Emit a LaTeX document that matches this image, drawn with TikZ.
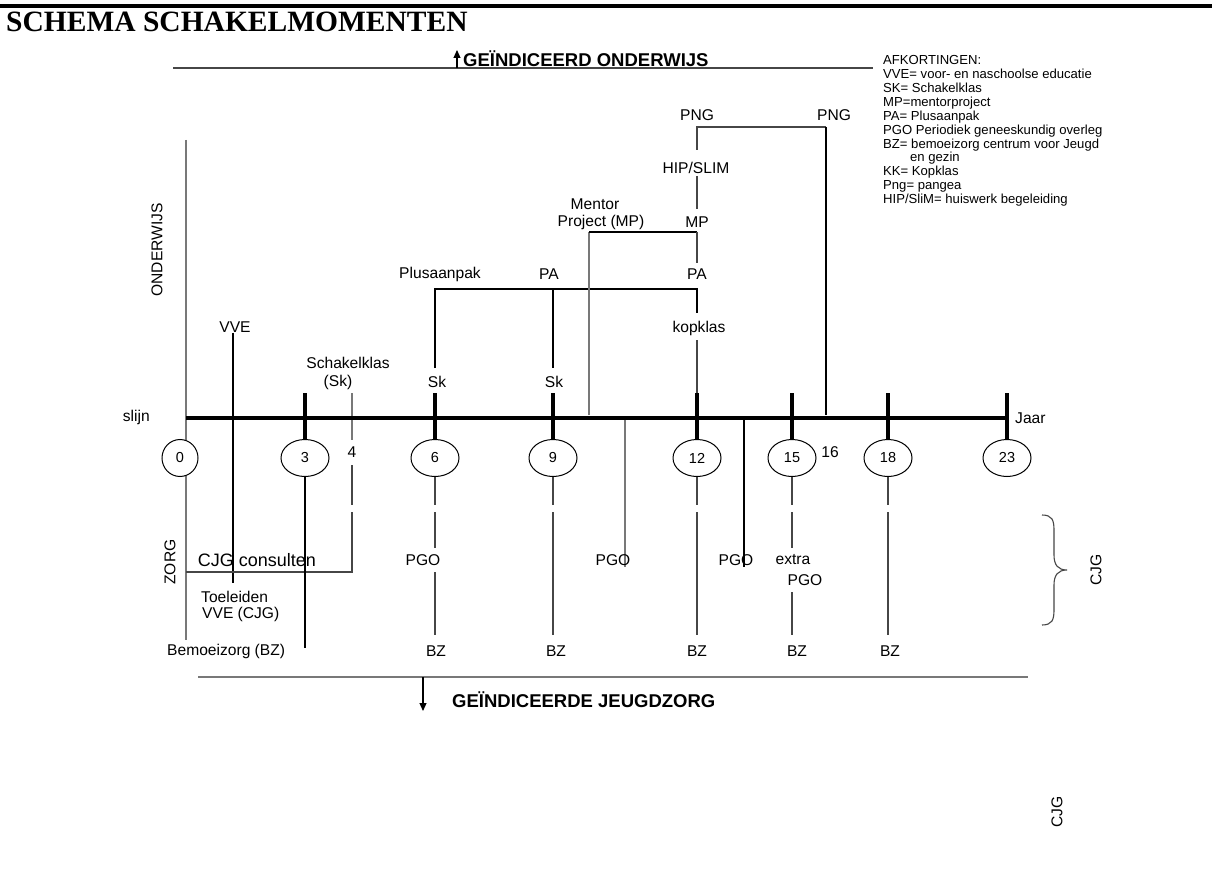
\documentclass[tikz,border=0pt]{standalone}
\usepackage{fontspec}
\setmainfont{Liberation Sans}
\newfontfamily\timesfont{Liberation Serif}
\usetikzlibrary{shapes.geometric,arrows.meta}
\definecolor{dgray}{RGB}{70,70,70}
\definecolor{lgray}{RGB}{120,120,120}
\begin{document}
\begin{tikzpicture}[x=1pt,y=-1pt,
  lbl/.style={font=\fontsize{15.6}{17}\selectfont, inner sep=0pt},
  bold/.style={font=\fontsize{18.5}{20}\selectfont\bfseries, inner sep=0pt},
  rot/.style={lbl, rotate=90},
  ell/.style={ellipse, draw=black, line width=1, fill=white, minimum width=48, minimum height=37, inner sep=0pt, font=\fontsize{14.5}{16}\selectfont},
  tick/.style={line width=4, draw=black},
  bl/.style={draw=black, line width=1.1},
  dl/.style={draw=dgray, line width=1.1},
  gl/.style={draw=lgray, line width=1.1},
  arr/.style={draw=black, line width=1.1, -{Triangle[length=8,width=7]}}
]
\useasboundingbox (0,0) rectangle (1212,893);
\fill[white] (0,0) rectangle (1212,893);

% top rule and title
\coordinate (ruleL) at (0,6);
\coordinate (ruleR) at (1212,6);
\draw[line width=3.5] (ruleL) -- (ruleR);
\node[anchor=base west, inner sep=0pt, font=\timesfont\bfseries\fontsize{29.5}{31}\selectfont] (title) at (6,32) {SCHEMA SCHAKELMOMENTEN};

% top band: geindiceerd onderwijs
\coordinate (topL) at (173,68);
\coordinate (topR) at (873,68);
\draw[dl] (topL) -- (topR);
\coordinate (upA) at (457,68);
\coordinate (upB) at (457,50);
\draw[arr] (upA) -- (upB);
\node[bold, anchor=base west] (gond) at (463,66.5) {GEÏNDICEERD ONDERWIJS};

% legend
\node[anchor=north west, inner sep=0pt, align=left, font=\fontsize{13.1}{13.95}\selectfont] (legend) at (883,55) {AFKORTINGEN:\\VVE= voor- en naschoolse educatie\\SK= Schakelklas\\MP=mentorproject\\PA= Plusaanpak\\PGO Periodiek geneeskundig overleg\\BZ= bemoeizorg centrum voor Jeugd\\\hspace*{27pt}en gezin\\KK= Kopklas\\Png= pangea\\HIP/SliM= huiswerk begeleiding};

% axis
\coordinate (axL) at (186,418);
\coordinate (axR) at (1007,418);

% vertical line at 0
\coordinate (v0a) at (186,140);
\coordinate (v0b) at (186,640);
\draw[gl] (v0a) -- (v0b);

% VVE
\node[lbl] (vve) at (235,327) {VVE};
\coordinate (vveb) at (233,583);
\draw[bl] (vve.south -| vveb) -- (vveb);

% schakelklas / col 4
\node[lbl] (schk) at (348,363) {Schakelklas};
\node[lbl] (schk2) at (338,382) {(Sk)};
\coordinate (c4a) at (352,393);
\coordinate (c4b) at (352,440);
\node[lbl] (n4) at (352,452) {4};
\coordinate (c4c) at (352,465);
\coordinate (c4d) at (352,505);
\coordinate (c4e) at (352,512);
\coordinate (c4f) at (352,572);
\coordinate (c4g) at (186,572);
\draw[gl] (c4a) -- (c4b);
\draw[dl] (c4c) -- (c4d);
\draw[dl] (c4e) -- (c4f) -- (c4g);

% upper brackets
\node[lbl] (plus) at (440,274) {Plusaanpak};
\node[lbl] (pa9) at (549,274) {PA};
\node[lbl] (pa12) at (697,274) {PA};
\node[lbl] (kop) at (699,328) {kopklas};
\node[lbl] (ment1) at (595,204) {Mentor};
\node[lbl] (ment2) at (601,222) {Project (MP)};
\node[lbl] (mp) at (697,222) {MP};
\node[lbl] (hip) at (696,168) {HIP/SLIM};
\node[lbl] (png1) at (697,115) {PNG};
\node[lbl] (png2) at (834,115) {PNG};
\node[lbl] (sk6) at (437,382) {Sk};
\node[lbl] (sk9) at (554,382) {Sk};

\coordinate (p6) at (435,289);
\coordinate (p6b) at (435,368);
\coordinate (p9) at (553,289);
\coordinate (p9b) at (553,368);
\coordinate (p12) at (697,289);
\coordinate (p12b) at (697,313);
\draw[bl] (p6b) -- (p6) -- (p12) -- (p12b);
\draw[bl] (p9) -- (p9b);

\coordinate (m1) at (589,415);
\coordinate (m2) at (589,232);
\coordinate (m3) at (697,232);
\coordinate (m4) at (697,263);
\draw[gl] (m1) -- (m2);
\draw[bl] (m2) -- (m3);
\draw[dl] (m3) -- (m4);

\coordinate (h1) at (697,176);
\coordinate (h2) at (697,209);
\draw[dl] (h1) -- (h2);

\coordinate (g1) at (697,150);
\coordinate (g2) at (697,127);
\coordinate (g3) at (826,127);
\coordinate (g4) at (826,415);
\draw[dl] (g1) -- (g2) -- (g3);
\draw[bl] (g3) -- (g4);

\coordinate (k1) at (697,340);
\coordinate (k2) at (697,418);
\draw[dl] (k1) -- (k2);

% PGO lines from axis
\coordinate (q1) at (625,418);
\coordinate (q2) at (625,567);
\coordinate (r1) at (744,418);
\coordinate (r2) at (744,567);
\draw[gl] (q1) -- (q2);
\draw[bl] (r1) -- (r2);

% axis and ticks
\draw[line width=4.7] (axL) -- (axR);
\foreach \nm/\xx in {t3/305, t6/435, t9/553, t12/697, t15/792, t18/888, t23/1007}{
  \coordinate (\nm a) at (\xx,393);
  \coordinate (\nm b) at (\xx,440);
  \draw[tick] (\nm a) -- (\nm b);
}
\node[lbl, anchor=east] (slijn) at (150,417) {slijn};
\node[lbl, anchor=west] (jaar) at (1015,418) {Jaar};
\node[lbl] (n16) at (830,452) {16};

% ellipses
\node[ell, minimum width=36] (e0) at (180,458) {0};
\node[ell] (e3) at (305,458) {3};
\node[ell] (e6) at (435,458) {6};
\node[ell] (e9) at (553,458) {9};
\node[ell] (e12) at (697,458) {12};
\node[ell] (e15) at (792,458) {15};
\node[ell] (e18) at (888,458) {18};
\node[ell] (e23) at (1007,458) {23};

% lower column lines
\coordinate (c3b) at (305,648);
\draw[bl] (e3.south) -- (c3b);
\foreach \e/\xx in {e6/435, e9/553, e12/697, e15/792, e18/888}{
  \coordinate (\e g1) at (\xx,505);
  \coordinate (\e g2) at (\xx,512);
  \draw[dl] (\e.south) -- (\e g1);
}
\foreach \e/\xx in {e9/553, e12/697, e18/888}{
  \coordinate (\e end) at (\xx,635);
  \draw[dl] (\e g2) -- (\e end);
}
\coordinate (e6m1) at (435,548);
\coordinate (e6m2) at (435,572);
\coordinate (e6end) at (435,635);
\draw[dl] (e6g2) -- (e6m1);
\draw[dl] (e6m2) -- (e6end);
\coordinate (e15m1) at (792,548);
\coordinate (e15m2) at (792,592);
\coordinate (e15end) at (792,635);
\draw[dl] (e15g2) -- (e15m1);
\draw[dl] (e15m2) -- (e15end);

% lower labels
\node[rot] (ond) at (157,250) {ONDERWIJS};
\node[rot] (zorg) at (170,562) {ZORG};
\node[inner sep=0pt, font=\fontsize{18}{20}\selectfont] (cjgc) at (257,560) {CJG consulten};
\node[lbl, anchor=west] (toel1) at (201,597) {Toeleiden};
\node[lbl, anchor=west] (toel2) at (202,614) {VVE (CJG)};
\node[lbl, anchor=west] (bemo) at (167,651) {Bemoeizorg (BZ)};
\node[lbl] (pgo6) at (423,560) {PGO};
\node[lbl] (pgo10) at (613,560) {PGO};
\node[lbl] (pgo14) at (736,560) {PGO};
\node[lbl] (extra) at (793,560) {extra};
\node[lbl] (pgo15) at (805,580) {PGO};
\node[lbl] (bz6) at (436,651) {BZ};
\node[lbl] (bz9) at (556,651) {BZ};
\node[lbl] (bz12) at (697,651) {BZ};
\node[lbl] (bz15) at (797,651) {BZ};
\node[lbl] (bz18) at (890,651) {BZ};

% brace and CJG
\coordinate (brT) at (1042,515);
\coordinate (brM) at (1067,570);
\coordinate (brB) at (1042,625);
\draw[dl] (brT) .. controls (1052,515) and (1054,520) .. (1054,530)
  -- (1054,555) .. controls (1054,565) and (1058,570) .. (brM)
  .. controls (1058,570) and (1054,575) .. (1054,585)
  -- (1054,610) .. controls (1054,620) and (1052,625) .. (brB);
\node[rot] (cjg1) at (1096,570) {CJG};
\node[rot] (cjg2) at (1057,812) {CJG};

% bottom band
\coordinate (botL) at (198,677);
\coordinate (botR) at (1028,677);
\draw[gl, line width=1.3] (botL) -- (botR);
\coordinate (dnA) at (423,677);
\coordinate (dnB) at (423,711);
\draw[arr] (dnA) -- (dnB);
\node[bold, anchor=west] (gjz) at (452,700) {GEÏNDICEERDE JEUGDZORG};
\end{tikzpicture}
\end{document}
